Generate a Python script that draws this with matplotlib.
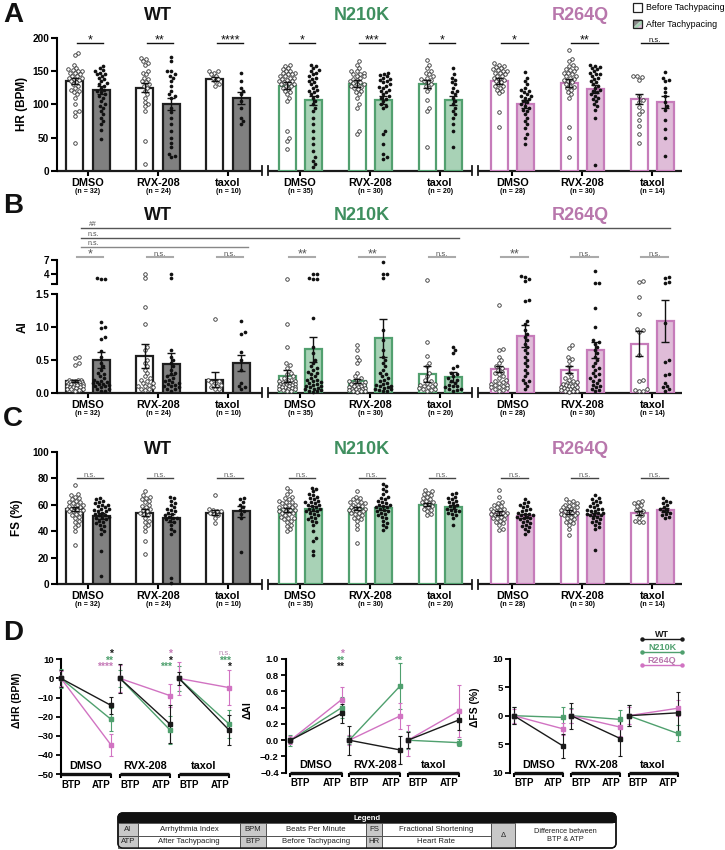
import numpy as np
import matplotlib
matplotlib.use('Agg')
import matplotlib.pyplot as plt
import matplotlib.transforms as mtrans
from matplotlib.patches import Rectangle, FancyBboxPatch, Polygon

plt.rcParams['font.family'] = ['Liberation Sans', 'DejaVu Sans']
plt.rcParams['font.weight'] = 'bold'
plt.rcParams['axes.linewidth'] = 1.5

# ---------------- data ----------------
genotypes = ['WT', 'N210K', 'R264Q']
treatments = ['DMSO', 'RVX-208', 'taxol']
n_counts = [32, 24, 10, 35, 30, 20, 28, 30, 14]

hr_before_mean = [135, 125, 138, 128, 131, 131, 135, 132, 108]
hr_before_sem = [5, 7, 3, 5, 5, 6, 4, 6, 8]
hr_after_mean = [121, 101, 110, 106, 106, 106, 100, 123, 104]
hr_after_sem = [6, 9, 9, 7, 6, 7, 6, 6, 9]
hr_sig = ['*', '**', '****', '*', '***', '*', '*', '**', 'n.s.']

hr_before_pts = [
    [178, 175, 160, 155, 153, 152, 150, 150, 148, 147, 145, 143, 142, 140, 140, 138, 137, 135, 133, 130, 128, 125, 122, 120, 118, 115, 110, 100, 90, 88, 82, 42],
    [170, 168, 165, 163, 160, 150, 148, 145, 140, 138, 135, 133, 130, 128, 125, 120, 115, 110, 103, 100, 97, 90, 45, 10],
    [150, 150, 148, 145, 143, 140, 138, 135, 130, 128],
    [160, 158, 155, 153, 150, 150, 148, 147, 145, 145, 143, 142, 140, 140, 138, 137, 135, 135, 133, 132, 130, 130, 128, 127, 125, 123, 120, 118, 115, 110, 105, 60, 50, 45, 32],
    [165, 160, 155, 150, 150, 148, 146, 145, 143, 142, 140, 138, 137, 135, 133, 132, 130, 130, 128, 126, 125, 123, 120, 118, 115, 110, 100, 95, 60, 55],
    [167, 160, 155, 150, 148, 145, 142, 140, 138, 137, 135, 133, 130, 128, 125, 120, 106, 95, 90, 36],
    [162, 160, 158, 157, 155, 153, 152, 150, 150, 148, 147, 145, 143, 142, 140, 138, 137, 135, 133, 130, 128, 127, 125, 122, 120, 117, 89, 66],
    [182, 168, 165, 160, 158, 155, 153, 152, 150, 148, 147, 145, 143, 142, 140, 138, 137, 135, 133, 130, 128, 126, 124, 122, 118, 115, 110, 66, 49, 21],
    [143, 142, 141, 137, 112, 106, 104, 96, 90, 86, 76, 67, 55, 41],
]
hr_after_pts = [
    [158, 155, 152, 150, 148, 146, 145, 143, 140, 138, 135, 132, 130, 128, 125, 122, 120, 118, 115, 112, 110, 105, 100, 98, 95, 90, 85, 80, 75, 70, 62, 48],
    [172, 165, 150, 150, 145, 143, 140, 135, 128, 120, 115, 112, 110, 95, 88, 80, 70, 60, 50, 42, 35, 25, 22, 20],
    [147, 135, 125, 120, 115, 105, 95, 80, 75, 70],
    [160, 158, 155, 152, 150, 148, 145, 142, 140, 138, 135, 133, 130, 128, 125, 122, 120, 118, 115, 112, 110, 105, 100, 95, 90, 80, 70, 60, 50, 40, 30, 20, 15, 10, 5],
    [148, 146, 144, 142, 140, 138, 136, 135, 133, 130, 128, 126, 125, 122, 120, 118, 115, 112, 110, 108, 105, 100, 98, 95, 60, 55, 40, 25, 20, 18],
    [155, 145, 140, 137, 133, 130, 125, 120, 118, 115, 110, 105, 100, 95, 90, 85, 80, 70, 60, 35],
    [149, 140, 135, 130, 125, 122, 120, 118, 115, 113, 112, 110, 108, 105, 103, 100, 98, 95, 92, 90, 85, 80, 75, 70, 65, 55, 50, 40],
    [160, 158, 156, 155, 153, 150, 148, 146, 145, 143, 140, 138, 135, 133, 130, 128, 125, 122, 120, 118, 115, 113, 110, 108, 105, 100, 97, 92, 80, 9],
    [149, 140, 137, 135, 124, 118, 112, 104, 97, 92, 76, 63, 50, 22],
]

ai_before_mean = [0.18, 0.56, 0.20, 0.26, 0.18, 0.29, 0.36, 0.35, 0.75]
ai_before_sem = [0.02, 0.18, 0.11, 0.09, 0.03, 0.12, 0.05, 0.05, 0.19]
ai_after_mean = [0.50, 0.44, 0.45, 0.66, 0.84, 0.24, 0.86, 0.65, 1.10]
ai_after_sem = [0.12, 0.17, 0.12, 0.19, 0.29, 0.07, 0.17, 0.12, 0.32]
ai_sig = ['*', 'n.s.', 'n.s.', '**', '**', 'n.s.', '**', 'n.s.', 'n.s.']

ai_before_pts = [
    [0.55, 0.53, 0.45, 0.42, 0.2, 0.2, 0.19, 0.18, 0.18, 0.17, 0.17, 0.16, 0.16, 0.15, 0.15, 0.14, 0.14, 0.13, 0.12, 0.12, 0.11, 0.1, 0.1, 0.09, 0.08, 0.08, 0.07, 0.06, 0.05, 0.05, 0.04, 0.03],
    [4.0, 3.2, 1.3, 1.05, 0.7, 0.65, 0.5, 0.45, 0.4, 0.35, 0.3, 0.25, 0.22, 0.2, 0.18, 0.15, 0.15, 0.12, 0.1, 0.1, 0.08, 0.06, 0.05, 0.04],
    [1.12, 0.2, 0.18, 0.16, 0.15, 0.12, 0.1, 0.08, 0.05, 0.05],
    [3.0, 1.05, 0.7, 0.45, 0.42, 0.38, 0.3, 0.28, 0.25, 0.22, 0.2, 0.2, 0.18, 0.18, 0.17, 0.16, 0.15, 0.15, 0.14, 0.13, 0.12, 0.12, 0.11, 0.1, 0.1, 0.09, 0.08, 0.08, 0.07, 0.06, 0.05, 0.05, 0.04, 0.03, 0.02],
    [0.72, 0.65, 0.55, 0.5, 0.45, 0.3, 0.25, 0.22, 0.2, 0.18, 0.16, 0.15, 0.14, 0.13, 0.12, 0.11, 0.1, 0.1, 0.09, 0.08, 0.07, 0.06, 0.06, 0.05, 0.04, 0.04, 0.03, 0.02, 0.02, 0.01],
    [2.65, 0.78, 0.56, 0.45, 0.4, 0.3, 0.25, 0.2, 0.18, 0.15, 0.13, 0.12, 0.1, 0.1, 0.08, 0.07, 0.06, 0.05, 0.04, 0.03],
    [1.34, 0.66, 0.65, 0.55, 0.5, 0.45, 0.4, 0.38, 0.35, 0.32, 0.3, 0.28, 0.25, 0.22, 0.2, 0.18, 0.16, 0.15, 0.14, 0.12, 0.11, 0.1, 0.09, 0.08, 0.07, 0.05, 0.04, 0.03],
    [0.72, 0.68, 0.55, 0.52, 0.48, 0.4, 0.3, 0.25, 0.22, 0.2, 0.18, 0.16, 0.15, 0.14, 0.13, 0.12, 0.11, 0.1, 0.1, 0.09, 0.08, 0.07, 0.06, 0.05, 0.05, 0.04, 0.03, 0.03, 0.02, 0.01],
    [2.4, 2.35, 1.46, 1.2, 0.97, 0.95, 0.92, 0.57, 0.2, 0.18, 0.05, 0.04, 0.03, 0.02],
]
ai_after_pts = [
    [3.2, 3.0, 2.9, 1.08, 1.0, 0.98, 0.85, 0.82, 0.63, 0.55, 0.45, 0.4, 0.35, 0.3, 0.28, 0.25, 0.22, 0.2, 0.18, 0.17, 0.16, 0.15, 0.14, 0.13, 0.12, 0.1, 0.1, 0.08, 0.06, 0.05, 0.03, 0.02],
    [4.0, 3.1, 0.65, 0.55, 0.5, 0.45, 0.4, 0.35, 0.3, 0.28, 0.25, 0.22, 0.2, 0.18, 0.16, 0.15, 0.14, 0.12, 0.1, 0.1, 0.08, 0.06, 0.05, 0.03],
    [1.1, 0.92, 0.9, 0.62, 0.5, 0.35, 0.15, 0.1, 0.08, 0.05],
    [4.1, 4.0, 3.2, 3.0, 2.9, 1.14, 0.7, 0.6, 0.5, 0.45, 0.4, 0.38, 0.35, 0.32, 0.3, 0.28, 0.25, 0.22, 0.2, 0.2, 0.18, 0.17, 0.15, 0.14, 0.12, 0.1, 0.1, 0.08, 0.07, 0.06, 0.05, 0.04, 0.03, 0.02, 0.01],
    [6.6, 4.1, 4.0, 3.1, 0.95, 0.8, 0.65, 0.55, 0.5, 0.45, 0.4, 0.35, 0.3, 0.28, 0.25, 0.22, 0.2, 0.18, 0.15, 0.14, 0.12, 0.1, 0.1, 0.08, 0.07, 0.06, 0.05, 0.04, 0.03, 0.02],
    [0.7, 0.65, 0.6, 0.4, 0.38, 0.3, 0.28, 0.25, 0.22, 0.2, 0.18, 0.15, 0.12, 0.1, 0.1, 0.08, 0.06, 0.05, 0.04, 0.03],
    [3.6, 3.4, 3.0, 2.6, 1.42, 1.4, 1.1, 1.05, 0.95, 0.9, 0.85, 0.8, 0.75, 0.7, 0.65, 0.6, 0.55, 0.5, 0.45, 0.4, 0.35, 0.3, 0.25, 0.2, 0.18, 0.15, 0.1, 0.05],
    [4.6, 2.1, 2.0, 1.29, 1.0, 0.8, 0.78, 0.75, 0.7, 0.65, 0.6, 0.55, 0.5, 0.45, 0.4, 0.38, 0.35, 0.3, 0.28, 0.25, 0.22, 0.2, 0.18, 0.15, 0.12, 0.1, 0.08, 0.06, 0.04, 0.02],
    [3.3, 3.2, 2.2, 2.1, 1.06, 0.5, 0.47, 0.28, 0.27, 0.15, 0.1, 0.08, 0.05, 0.03],
]

fs_before_mean = [57, 54, 54, 56, 57, 60, 54, 54.5, 54]
fs_before_sem = [1.5, 2.5, 2, 1.3, 1.3, 1.2, 1.5, 1.2, 1.5]
fs_after_mean = [51.5, 50, 55, 57, 57.5, 58, 51.5, 52.5, 56]
fs_after_sem = [2.5, 3, 4, 1.8, 1.4, 1.5, 1.3, 1.3, 1.5]
fs_sig = ['n.s.'] * 9

fs_before_pts = [
    [75, 68, 67, 66, 65, 64, 63, 62, 62, 61, 60, 60, 59, 58, 58, 57, 57, 56, 56, 55, 55, 54, 53, 52, 51, 50, 48, 47, 45, 43, 40, 30],
    [70, 67, 66, 65, 64, 63, 62, 60, 59, 58, 57, 56, 55, 54, 53, 52, 50, 48, 47, 45, 43, 40, 33, 23],
    [67, 57, 56, 55, 55, 54, 53, 52, 50, 46],
    [73, 70, 68, 66, 65, 64, 63, 62, 62, 61, 60, 60, 59, 58, 58, 57, 57, 56, 56, 55, 55, 54, 54, 53, 52, 51, 50, 50, 49, 48, 47, 45, 44, 42, 40],
    [70, 66, 65, 64, 63, 62, 62, 61, 60, 60, 59, 58, 58, 57, 57, 56, 56, 55, 55, 54, 54, 53, 52, 51, 50, 49, 48, 45, 42, 31],
    [71, 70, 69, 68, 67, 66, 65, 64, 63, 62, 62, 61, 60, 59, 58, 57, 56, 55, 53, 52],
    [71, 66, 62, 61, 60, 59, 58, 57, 57, 56, 55, 55, 54, 54, 53, 53, 52, 52, 51, 50, 50, 49, 48, 47, 46, 45, 42, 41],
    [64, 63, 62, 61, 60, 60, 59, 58, 58, 57, 57, 56, 56, 55, 55, 54, 54, 53, 53, 52, 52, 51, 50, 49, 48, 47, 46, 45, 42, 37],
    [63, 62, 61, 60, 59, 57, 56, 55, 54, 52, 50, 48, 47, 47],
]
fs_after_pts = [
    [65, 64, 63, 62, 61, 60, 60, 59, 58, 57, 57, 56, 55, 55, 54, 53, 52, 52, 51, 50, 50, 49, 48, 47, 46, 45, 44, 42, 40, 38, 25, 6],
    [66, 65, 63, 61, 60, 58, 57, 56, 55, 54, 53, 52, 51, 50, 50, 49, 48, 47, 45, 42, 40, 38, 5, 1],
    [65, 64, 62, 60, 58, 56, 55, 53, 50, 24],
    [73, 72, 70, 68, 67, 66, 65, 64, 63, 62, 62, 61, 60, 60, 59, 58, 57, 57, 56, 55, 55, 54, 53, 52, 51, 50, 49, 48, 47, 45, 40, 35, 33, 25, 22],
    [76, 74, 72, 70, 68, 66, 65, 64, 63, 62, 61, 60, 60, 59, 58, 58, 57, 56, 55, 55, 54, 53, 52, 51, 50, 48, 46, 45, 43, 41],
    [69, 68, 66, 65, 64, 63, 62, 61, 60, 59, 58, 57, 56, 55, 55, 54, 53, 52, 50, 45],
    [64, 62, 61, 60, 59, 58, 57, 56, 55, 54, 53, 53, 52, 52, 51, 51, 50, 50, 49, 48, 47, 46, 45, 44, 43, 42, 40, 38],
    [67, 65, 64, 63, 62, 61, 60, 59, 58, 57, 57, 56, 55, 55, 54, 54, 53, 53, 52, 52, 51, 50, 49, 48, 47, 46, 45, 43, 42, 26],
    [65, 63, 62, 61, 60, 58, 57, 56, 55, 54, 53, 52, 51, 50],
]

# Panel D (delta values, BTP baseline = 0)
d_btp = [0, 0, 0]
d_hr_atp = {'WT': [-14.1, -23.9, -27.0], 'N210K': [-21.4, -27.0, -23.8], 'R264Q': [-34.8, -9.0, -4.8]}
d_hr_atp_err = {'WT': [4.6, 9.8, 7.9], 'N210K': [6.0, 7.2, 7.4], 'R264Q': [5.8, 5.9, 9.3]}
d_hr_btp_err = {'WT': [4.5, 7.5, 3.3], 'N210K': [5.0, 4.5, 6.5], 'R264Q': [4.0, 7.0, 8.5]}
d_ai_atp = {'WT': [0.33, -0.12, 0.25], 'N210K': [0.40, 0.67, -0.03], 'R264Q': [0.50, 0.30, 0.36]}
d_ai_atp_err = {'WT': [0.12, 0.17, 0.13], 'N210K': [0.13, 0.28, 0.04], 'R264Q': [0.15, 0.16, 0.32]}
d_ai_btp_err = {'WT': [0.03, 0.18, 0.10], 'N210K': [0.07, 0.05, 0.11], 'R264Q': [0.05, 0.06, 0.19]}
d_fs_atp = {'WT': [-5.3, -4.0, 0.5], 'N210K': [-0.3, -0.65, -3.1], 'R264Q': [-2.3, -2.0, 1.3]}
d_fs_atp_err = {'WT': [2.1, 3.1, 3.7], 'N210K': [1.9, 1.6, 1.4], 'R264Q': [1.1, 1.6, 1.4]}
d_fs_btp_err = {'WT': [1.5, 2.3, 1.8], 'N210K': [1.5, 1.3, 1.8], 'R264Q': [1.2, 1.2, 1.5]}

d_hr_sig = [[('*', 'WT'), ('**', 'N210K'), ('****', 'R264Q')],
            [('*', 'R264Q'), ('*', 'WT'), ('***', 'N210K')],
            [('n.s.', 'R264Q'), ('***', 'N210K'), ('*', 'WT')]]
d_ai_sig = [[('*', 'R264Q'), ('**', 'N210K'), ('**', 'WT')],
            [(None, None), ('**', 'N210K')],
            []]

# ---------------- styling ----------------
edge_c = {'WT': '#1e1e1e', 'N210K': '#52a06f', 'R264Q': '#c67cba'}
fill_c = {'WT': '#808080', 'N210K': '#a8d2b6', 'R264Q': '#dfbcd8'}
title_c = {'WT': '#111111', 'N210K': '#3f8f5f', 'R264Q': '#b877ac'}
line_c = {'WT': '#1a1a1a', 'N210K': '#4fa06e', 'R264Q': '#d173c2'}

W, H = 725, 850
fig = plt.figure(figsize=(W / 100, H / 100), dpi=100)


def px_axes(l, t, r, b):
    return fig.add_axes([l / W, 1 - b / H, (r - l) / W, (b - t) / H])


def fy(p):
    return 1 - p / H


ov = fig.add_axes([0, 0, 1, 1])
ov.set_xlim(0, W)
ov.set_ylim(H, 0)
ov.axis('off')
ov.set_zorder(10)

XPX = 70.0
group_x = np.array([i + 0.03 * (i // 3) for i in range(9)])
geno_of = [genotypes[i // 3] for i in range(9)]
BOFF, BW = 0.186, 0.243
XL = (-0.443, 8.486)
SEGS = [(-0.443, 2.486), (2.571, 5.486), (5.571, 8.486)]


def swarm(vals, ypix, d=3.6, maxoff=8.5):
    ys = np.array([ypix(v) for v in vals])
    order = np.argsort(ys)
    cands = [0.0]
    for s in np.arange(1.0, maxoff + 0.01, 1.0):
        cands += [s, -s]
    placed = []
    offs = np.zeros(len(vals))
    for i in order:
        best, bestd = 0.0, -1.0
        for c in cands:
            md = min([np.hypot(c - px, ys[i] - py) for px, py in placed], default=99.0)
            if md >= d:
                best = c
                break
            if md > bestd:
                best, bestd = c, md
        offs[i] = best
        placed.append((best, ys[i]))
    return offs / XPX


def style_bar_axis(ax, axis_h):
    ax.set_xlim(*XL)
    for s in ['top', 'right', 'bottom']:
        ax.spines[s].set_visible(False)
    ax.spines['left'].set_linewidth(1.5)
    ax.tick_params(axis='y', length=4, width=1.5, labelsize=7.2, pad=1.5)
    ax.set_xticks(group_x)
    ax.set_xticklabels(treatments * 3, fontsize=7.8, fontweight='bold')
    ax.tick_params(axis='x', length=3.5, width=1.5, pad=1.5)
    tr = mtrans.blended_transform_factory(ax.transData, ax.transAxes)
    for a, b in SEGS:
        ax.plot([a, b], [0, 0], transform=tr, color='#1a1a1a', lw=1.6, clip_on=False,
                solid_capstyle='butt')
    h = 4.5 / axis_h
    for xb in [SEGS[0][1], SEGS[1][0], SEGS[1][1], SEGS[2][0]]:
        ax.plot([xb, xb], [-h, h], transform=tr, color='#1a1a1a', lw=1.3, clip_on=False)
    for i, n in enumerate(n_counts):
        ax.annotate(f'(n = {n})', xy=(group_x[i], 0), xycoords=('data', 'axes fraction'),
                    xytext=(0, -20.5 * 0.72), textcoords='offset points', ha='center',
                    va='center', fontsize=5, fontweight='bold')


def draw_bars(ax, bmean, bsem, amean, asem):
    for i in range(9):
        g = geno_of[i]
        x = group_x[i]
        ax.bar(x - BOFF, bmean[i], width=BW, facecolor='white', edgecolor=edge_c[g], lw=1.6, zorder=2)
        ax.bar(x + BOFF, amean[i], width=BW, facecolor=fill_c[g], edgecolor=edge_c[g], lw=1.6, zorder=2)
        ax.errorbar([x - BOFF, x + BOFF], [bmean[i], amean[i]], yerr=[bsem[i], asem[i]], fmt='none',
                    ecolor='#111111', elinewidth=1.0, capsize=2.6, capthick=1.0, zorder=5)


def draw_points(ax_for, bpts, apts, ypix):
    for i in range(9):
        x = group_x[i]
        for pts, off, filled in [(bpts[i], -BOFF, False), (apts[i], BOFF, True)]:
            dx = swarm(pts, ypix)
            for v, o in zip(pts, dx):
                ax = ax_for(v)
                if filled:
                    ax.scatter(x + off + o, v, s=7.0, c='#111111', lw=0, zorder=4, clip_on=False)
                else:
                    ax.scatter(x + off + o, v, s=6.5, facecolors='white', edgecolors='#333333',
                               lw=0.6, zorder=4, clip_on=False)


def pair_lines(ax, y, line_col, lw=1.0):
    for i in range(9):
        x = group_x[i]
        ax.plot([x - 0.16, x + 0.22], [y, y], color=line_col, lw=lw, clip_on=False, zorder=3)


def sig_texts(ax, ytext_fig, labels, col):
    tr = mtrans.blended_transform_factory(ax.transData, fig.transFigure)
    for i in range(9):
        x = group_x[i] + 0.03
        lab = labels[i]
        if lab == 'n.s.':
            ax.text(x, ytext_fig + 1.5 / H, lab, transform=tr, ha='center', va='baseline',
                    fontsize=5.5, fontweight='normal', color=col)
        else:
            ax.text(x, ytext_fig - 0.5 / H, lab, transform=tr, ha='center', va='baseline',
                    fontsize=9, fontweight='normal', color=col)


# ---------------- Panel A ----------------
A_T, A_B = 38, 170.7
axA = px_axes(57, A_T, 682, A_B)
axA.set_ylim(0, 200)
axA.set_yticks([0, 50, 100, 150, 200])
style_bar_axis(axA, A_B - A_T)
draw_bars(axA, hr_before_mean, hr_before_sem, hr_after_mean, hr_after_sem)
draw_points(lambda v: axA, hr_before_pts, hr_after_pts, lambda v: v * 0.6635)
pair_lines(axA, 192, '#111111')
sig_texts(axA, fy(43.3), hr_sig, '#111111')
axA.set_ylabel('HR (BPM)', fontsize=8.5, fontweight='bold')
axA.yaxis.set_label_coords(-0.046, 0.5)

# ---------------- Panel B ----------------
B_T, B_B = 294.3, 392.7
axB = px_axes(57, B_T, 682, B_B)
axBu = px_axes(57, 260, 682, 284.3)
axB.set_ylim(0, 1.5)
axB.set_yticks([0, 0.5, 1.0, 1.5])
axB.set_yticklabels(['0.0', '0.5', '1.0', '1.5'])
style_bar_axis(axB, B_B - B_T)
axBu.set_xlim(*XL)
axBu.set_ylim(1.8, 7)
axBu.set_yticks([1.8, 4, 7])
axBu.set_yticklabels(['', '4', '7'])
for s in ['top', 'right', 'bottom']:
    axBu.spines[s].set_visible(False)
axBu.tick_params(axis='x', bottom=False, labelbottom=False)
axBu.tick_params(axis='y', length=4, width=1.5, labelsize=7.2, pad=1.5)
axBu.patch.set_alpha(0)
draw_bars(axB, ai_before_mean, ai_before_sem, ai_after_mean, ai_after_sem)


def ypixB(v):
    return v * 65.6 if v <= 1.5 else 108.4 + (v - 1.8) * 4.67


draw_points(lambda v: axB if v <= 1.5 else axBu, ai_before_pts, ai_after_pts, ypixB)
trB = mtrans.blended_transform_factory(axB.transData, fig.transFigure)
for i in range(9):
    x = group_x[i]
    axB.plot([x - 0.16, x + 0.22], [fy(257.3)] * 2, transform=trB, color='#aaaaaa', lw=1.5, clip_on=False)
sig_texts(axB, fy(257.3), ai_sig, '#555555')
for x1, py, lab, col in [(8.31, 228.0, '##', '#555555'), (5.3, 237.7, 'n.s.', '#555555'),
                         (2.29, 246.7, 'n.s.', '#888888')]:
    axB.plot([-0.1, x1], [fy(py)] * 2, transform=trB, color=col, lw=1.0, clip_on=False)
    axB.text(0.07, fy(py - 1.5), lab, transform=trB, ha='center', va='baseline', fontsize=5,
             fontweight='normal', color='#555555')
axB.set_ylabel('AI', fontsize=8.5, fontweight='bold')
axB.yaxis.set_label_coords(-0.046, 0.67)

# ---------------- Panel C ----------------
C_T, C_B = 451.7, 584.3
axC = px_axes(57, C_T, 682, C_B)
axC.set_ylim(0, 100)
axC.set_yticks([0, 20, 40, 60, 80, 100])
style_bar_axis(axC, C_B - C_T)
draw_bars(axC, fs_before_mean, fs_before_sem, fs_after_mean, fs_after_sem)
draw_points(lambda v: axC, fs_before_pts, fs_after_pts, lambda v: v * 1.326)
pair_lines(axC, 80, '#444444')
sig_texts(axC, fy(C_B - 80 * 1.326), fs_sig, '#666666')
axC.set_ylabel('FS (%)', fontsize=8.5, fontweight='bold')
axC.yaxis.set_label_coords(-0.054, 0.5)

# genotype titles
for gi, g in enumerate(genotypes):
    cx = [158, 362, 580][gi]
    for py in [15, 215, 449]:
        ov.text(cx, py, g, ha='center', va='center', fontsize=13, fontweight='bold', color=title_c[g])

# panel letters
for lab, py in [('A', 15), ('B', 206), ('C', 419), ('D', 633)]:
    ov.text(3, py, lab, ha='left', va='center', fontsize=20, fontweight='bold', color='#111111')

# top legend
ov.add_patch(Rectangle((633, 3), 9, 8.5, facecolor='white', edgecolor='#222222', lw=0.9))
ov.add_patch(Polygon([[633, 19.5], [642, 19.5], [633, 28]], closed=True, facecolor='#8a8a8a', lw=0))
ov.add_patch(Polygon([[642, 19.5], [642, 28], [633, 28]], closed=True, facecolor='#a8d2b6', lw=0))
ov.add_patch(Polygon([[642, 23.5], [642, 28], [637.5, 28]], closed=True, facecolor='#dfbcd8', lw=0))
ov.add_patch(Rectangle((633, 19.5), 9, 8.5, facecolor='none', edgecolor='#222222', lw=0.9))
ov.text(646, 7.5, 'Before Tachypacing', ha='left', va='center', fontsize=6.4, fontweight='normal')
ov.text(646, 24, 'After Tachypacing', ha='left', va='center', fontsize=6.4, fontweight='normal')


# ---------------- Panel D ----------------
def d_panel(box, xl, sp, ylim, yticks, yticklabels, ylabel, lab_xy, atp, atp_err, btp_err, sigs):
    ax = px_axes(*box)
    ax.set_xlim(*xl)
    ax.set_ylim(*ylim)
    for s in ['top', 'right', 'bottom']:
        ax.spines[s].set_visible(False)
    ax.spines['left'].set_linewidth(1.5)
    ax.set_yticks(yticks)
    ax.set_yticklabels(yticklabels)
    ax.tick_params(axis='y', length=3.5, width=1.3, labelsize=6.8, pad=1.5)
    xt, xtl = [], []
    for k in range(3):
        xt += [k * sp, k * sp + 1]
        xtl += ['BTP', 'ATP']
    ax.set_xticks(xt)
    ax.set_xticklabels(xtl, fontsize=7, fontweight='bold')
    for j, t in enumerate(ax.get_xticklabels()):
        t.set_horizontalalignment('left' if j % 2 == 0 else 'right')
    ax.tick_params(axis='x', length=3, width=1.5, pad=1)
    tr = mtrans.blended_transform_factory(ax.transData, ax.transAxes)
    for k in range(3):
        ax.plot([k * sp, k * sp + 1], [0, 0], transform=tr, color='#111111', lw=2.4, clip_on=False,
                solid_capstyle='butt')
        ax.annotate(treatments[k], xy=(k * sp + 0.5, 0), xycoords=('data', 'axes fraction'),
                    xytext=(0, 2), textcoords='offset points', ha='center', va='bottom',
                    fontsize=7.8, fontweight='bold')
    for g in ['N210K', 'R264Q', 'WT']:
        for k in range(3):
            xs = [k * sp, k * sp + 1]
            ys = [d_btp[k], atp[g][k]]
            ax.errorbar(xs, ys, yerr=[btp_err[g][k], atp_err[g][k]], fmt='none', ecolor=line_c[g],
                        elinewidth=0.8, capsize=1.6, capthick=0.8, zorder=3, clip_on=False)
            ax.plot(xs, ys, color=line_c[g], lw=1.0, marker='s', ms=2.4, zorder=4, clip_on=False)
    trf = mtrans.blended_transform_factory(ax.transData, fig.transFigure)
    rows = [651.7, 658.5, 665.3]
    for k, lst in enumerate(sigs):
        for r, (lab, g) in enumerate(lst):
            if lab is None:
                continue
            col = line_c[g] if g != 'R264Q' else '#c67bb8'
            if lab == 'n.s.':
                ax.text(k * sp + 1.04, fy(rows[r] + 3.0), lab, transform=trf, ha='right', va='baseline',
                        fontsize=5.5, fontweight='normal', color='#b98ab0')
            else:
                ax.text(k * sp + 1.04, fy(rows[r] + 5.0), lab, transform=trf, ha='right', va='baseline',
                        fontsize=7.5, fontweight='bold', color=col)
    ax.set_ylabel(ylabel, fontsize=7.5, fontweight='bold')
    ax.yaxis.set_label_coords(*lab_xy)
    return ax


axD1 = d_panel((61, 659.3, 230, 774), (0, 3.38), 1.18, (-50, 10), [10, 0, -10, -20, -30, -40, -50],
               ['10', '0', '\u221210', '\u221220', '\u221230', '\u221240', '\u221250'], '\u0394HR (BPM)',
               (-0.23, 0.64), d_hr_atp, d_hr_atp_err, d_hr_btp_err, d_hr_sig)
axD2 = d_panel((285.7, 659, 460, 772.7), (-0.094, 3.32), 1.15, (-0.4, 1.0),
               [1.0, 0.8, 0.6, 0.4, 0.2, 0.0, -0.2, -0.4],
               ['1.0', '0.8', '0.6', '0.4', '0.2', '0.0', '\u22120.2', '\u22120.4'], '\u0394AI',
               (-0.19, 0.55), d_ai_atp, d_ai_atp_err, d_ai_btp_err, d_ai_sig)
axD3 = d_panel((510, 658.7, 679, 772.7), (-0.08, 3.37), 1.17, (-10, 10), [10, 5, 0, -5, -10],
               ['10', '5', '0', '5', '10'], '\u0394FS (%)',
               (-0.18, 0.57), d_fs_atp, d_fs_atp_err, d_fs_btp_err, [])

# D legend
for g, py in [('WT', 639), ('N210K', 652), ('R264Q', 665)]:
    ov.plot([642, 682], [py, py], color=line_c[g], lw=1.0, marker='o', ms=2.2)
    ov.text(662, py - 2.0, g, ha='center', va='baseline', fontsize=6.5, fontweight='bold',
            color=line_c[g] if g != 'R264Q' else '#b877ac')

# ---------------- abbreviation table ----------------
T_L, T_R = 118, 616
ov.add_patch(FancyBboxPatch((T_L, 813), T_R - T_L, 35, boxstyle='round,pad=0,rounding_size=5',
                            facecolor='white', edgecolor='#111111', lw=1.0, zorder=1))
ov.add_patch(FancyBboxPatch((T_L, 813), T_R - T_L, 10, boxstyle='round,pad=0,rounding_size=4',
                            facecolor='#111111', edgecolor='#111111', lw=0.5, zorder=2))
ov.add_patch(Rectangle((T_L, 818), T_R - T_L, 5, facecolor='#111111', lw=0, zorder=2))
ov.text(367, 818.3, 'Legend', ha='center', va='center', fontsize=5.5, fontweight='bold', color='white', zorder=3)
cols = [118, 138, 240, 266, 366, 382, 491, 515, 616]
row_y = [823, 835.5, 848]
gray_cols = [0, 2, 4, 6]
cells = [['AI', 'Arrhythmia Index', 'BPM', 'Beats Per Minute', 'FS', 'Fractional Shortening'],
         ['ATP', 'After Tachypacing', 'BTP', 'Before Tachypacing', 'HR', 'Heart Rate']]
for r in range(2):
    for c in range(6):
        x0, x1 = cols[c], cols[c + 1]
        y0, y1 = row_y[r], row_y[r + 1]
        ov.add_patch(Rectangle((x0, y0), x1 - x0, y1 - y0,
                               facecolor='#c8c8c8' if c in gray_cols else 'white',
                               edgecolor='#444444', lw=0.6, zorder=2))
        ov.text((x0 + x1) / 2, (y0 + y1) / 2, cells[r][c], ha='center', va='center', fontsize=5.6,
                fontweight='normal', color='#222222', zorder=3)
ov.add_patch(Rectangle((cols[6], 823), cols[7] - cols[6], 25, facecolor='#c8c8c8', edgecolor='#444444',
                       lw=0.6, zorder=2))
ov.text((cols[6] + cols[7]) / 2, 835.5, '\u0394', ha='center', va='center', fontsize=5.5,
        fontweight='normal', color='#222222', zorder=3)
ov.text((cols[7] + cols[8]) / 2, 835.5, 'Difference between\nBTP & ATP', ha='center', va='center',
        fontsize=5.3, fontweight='normal', color='#222222', linespacing=1.3, zorder=3)
ov.add_patch(FancyBboxPatch((T_L, 813), T_R - T_L, 35, boxstyle='round,pad=0,rounding_size=5',
                            facecolor='none', edgecolor='#111111', lw=1.0, zorder=4))

fig.savefig('out.png', dpi=100)
